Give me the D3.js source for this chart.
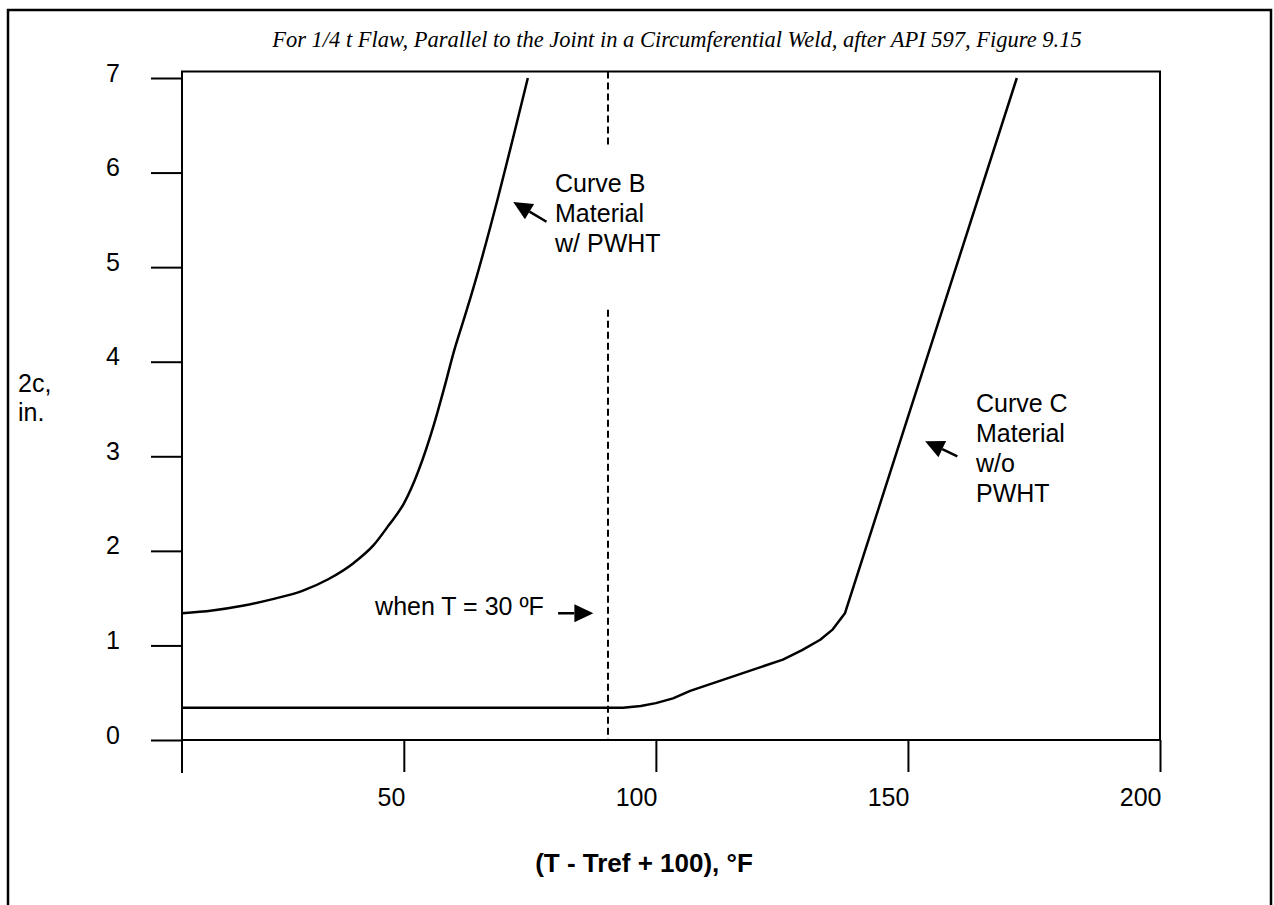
<html>
<head>
<title>Flaw length chart</title>
<style>
    body { margin: 0; background: #fff; }
    svg { display: block; }
    .lbl { font-family: "Liberation Sans", Arial, sans-serif; font-size: 25px; fill: #000; }
    .tick line { stroke: #000; stroke-width: 2px; }
</style>
</head>
<body>
<script src="https://d3js.org/d3.v7.min.js"></script>
<script>
// data
var xTicks = [50, 100, 150, 200];
var yTicks = [0, 1, 2, 3, 4, 5, 6, 7];

// Curve B - material with PWHT
var curveB = [[6, 1.34], [12, 1.37], [18, 1.42], [24, 1.49], [30, 1.58], [35, 1.70], [40, 1.87],
    [44, 2.06], [47, 2.27], [50, 2.50], [56, 3.34], [58, 3.72], [60, 4.12], [61.5, 4.38],
    [62.5, 4.55], [74.6, 7.0]];
// Curve C - material without PWHT
var curveC = [[6, 0.34], [93.5, 0.34], [97, 0.36], [100, 0.39], [103.4, 0.44], [106.8, 0.52],
    [125.2, 0.85], [129, 0.95], [132.6, 1.06], [135.1, 1.17], [137.5, 1.34], [171.6, 7.0]];

// dashed line for T = 30 F, drawn in two pieces around the curve B note
var refX = 90.5;
var refSegments = [[7.07, 6.27], [4.55, 0]];

var notes = [
    {x: 80.0, y: 5.79, lines: ["Curve B", "Material", "w/ PWHT"]},
    {x: 163.5, y: 3.47, lines: ["Curve C", "Material", "w/o", "PWHT"]},
    {x: 44.3, y: 1.32, lines: ["when T = 30 ºF"]}
];
// arrows: [tailX, tailY, tipX, tipY]
var arrows = [[78.3, 5.48, 71.7, 5.69], [159.8, 3.00, 153.4, 3.16], [80.6, 1.34, 87.6, 1.34]];

var w = 1274, h = 905;
var svg = d3.select('body').append('svg').attr('width', w).attr('height', h);

// outer border
svg.append('rect').attr('x', 8).attr('y', 10).attr('width', 1263).attr('height', 905)
    .attr('fill', 'none').attr('stroke', '#000').attr('stroke-width', 2.5);

var x = d3.scaleLinear().domain([6, 200]).range([182, 1160]);
var y = d3.scaleLinear().domain([0, 7]).range([740, 78]);
var yTop = 7.07;

// title
svg.append('text')
    .attr('x', 677).attr('y', 47)
    .attr('text-anchor', 'middle')
    .style('font-family', '"Liberation Serif", "Times New Roman", serif')
    .style('font-style', 'italic')
    .style('font-size', '22.5px')
    .text('For 1/4 t Flaw, Parallel to the Joint in a Circumferential Weld, after API 597, Figure 9.15');

// axes
var yAxis = d3.axisLeft(y).tickValues(yTicks).tickFormat(d3.format('d'))
    .tickSize(31).tickSizeOuter(0).tickPadding(31);
var gy = svg.append('g').attr('transform', 'translate(' + x(6) + ',0)').call(yAxis);
gy.select('.domain').remove();
gy.selectAll('text').attr('class', 'lbl').attr('dy', '0.12em');

var xAxis = d3.axisBottom(x).tickValues(xTicks).tickSize(32).tickSizeOuter(0).tickPadding(16);
var gx = svg.append('g').attr('transform', 'translate(0,' + y(0) + ')').call(xAxis);
gx.select('.domain').remove();
gx.selectAll('text').attr('class', 'lbl').attr('text-anchor', 'end').attr('dx', 1);
gy.attr('font-family', null).attr('font-size', null);
gx.attr('font-family', null).attr('font-size', null);

// plot frame
var frame = svg.append('g').attr('stroke', '#000').attr('stroke-width', 2).attr('fill', 'none');
frame.append('path').attr('d', 'M' + x(6) + ',' + (y(0) + 33) + 'V' + y(yTop) + 'H' + x(200) + 'V' + y(0) + 'H' + x(6));

// dashed reference line
svg.selectAll('.ref').data(refSegments).enter().append('line')
    .attr('x1', x(refX)).attr('x2', x(refX))
    .attr('y1', function (d) { return y(d[0]); })
    .attr('y2', function (d) { return y(d[1]); })
    .attr('stroke', '#000').attr('stroke-width', 2).attr('stroke-dasharray', '7,4');

// curves
var lineB = d3.line().x(function (d) { return x(d[0]); }).y(function (d) { return y(d[1]); })
    .curve(d3.curveMonotoneX);
var lineC = d3.line().x(function (d) { return x(d[0]); }).y(function (d) { return y(d[1]); });
svg.append('path').attr('d', lineB(curveB)).attr('fill', 'none')
    .attr('stroke', '#000').attr('stroke-width', 2.5);
svg.append('path').attr('d', lineC(curveC)).attr('fill', 'none')
    .attr('stroke', '#000').attr('stroke-width', 2.5).attr('stroke-linejoin', 'round');

// notes
notes.forEach(function (n) {
    var t = svg.append('text').attr('class', 'lbl').attr('x', x(n.x)).attr('y', y(n.y));
    n.lines.forEach(function (s, i) {
        t.append('tspan').attr('x', x(n.x)).attr('dy', i === 0 ? 0 : 30).text(s);
    });
});

// arrows with filled heads
arrows.forEach(function (a) {
    var x1 = x(a[0]), y1 = y(a[1]), x2 = x(a[2]), y2 = y(a[3]);
    var ang = Math.atan2(y2 - y1, x2 - x1);
    var hl = 19, hw = 9;
    var bx = x2 - hl * Math.cos(ang), by = y2 - hl * Math.sin(ang);
    svg.append('line').attr('x1', x1).attr('y1', y1).attr('x2', bx).attr('y2', by)
        .attr('stroke', '#000').attr('stroke-width', 2.5);
    var pts = [[x2, y2],
        [bx + hw * Math.sin(ang), by - hw * Math.cos(ang)],
        [bx - hw * Math.sin(ang), by + hw * Math.cos(ang)]];
    svg.append('polygon').attr('points', pts.join(' ')).attr('fill', '#000');
});

// axis titles
svg.append('text').attr('class', 'lbl').attr('x', 18).attr('y', 392).text('2c,');
svg.append('text').attr('class', 'lbl').attr('x', 18).attr('y', 421).text('in.');
svg.append('text').attr('class', 'lbl').attr('x', 644).attr('y', 872)
    .attr('text-anchor', 'middle').style('font-weight', 'bold').style('font-size', '26px')
    .text('(T - Tref + 100), °F');
</script>
</body>
</html>
